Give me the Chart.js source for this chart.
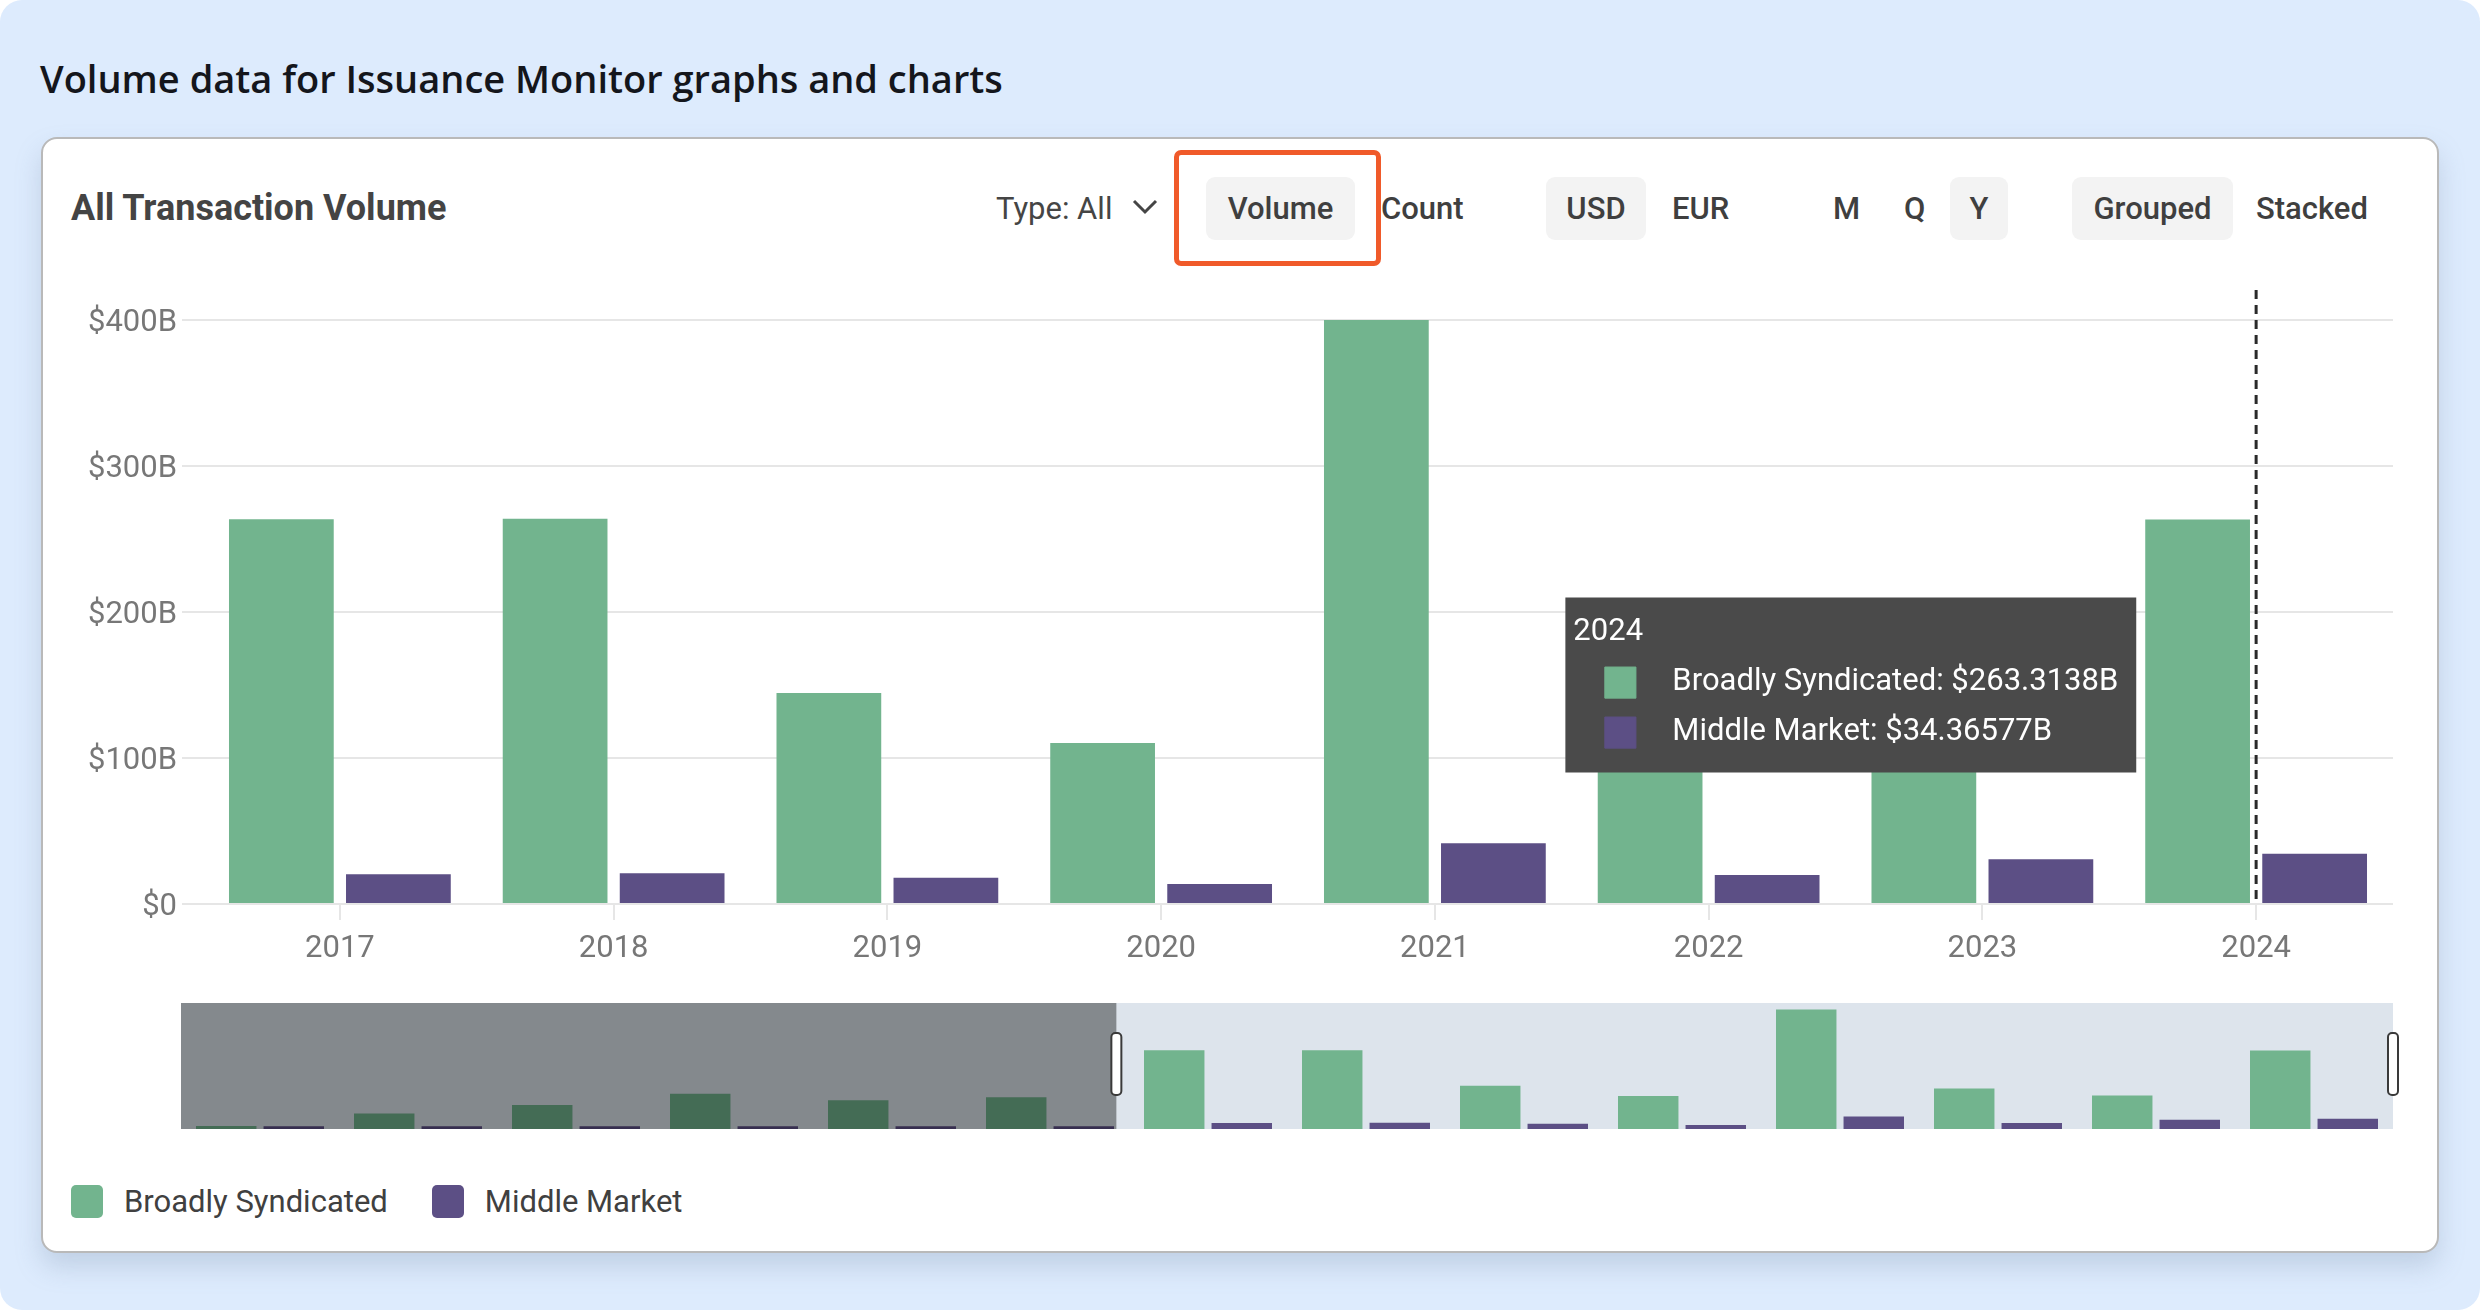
<!DOCTYPE html>
<html>
<head>
<meta charset="utf-8">
<script src="https://cdn.jsdelivr.net/npm/chart.js@4.4.1/dist/chart.umd.min.js"></script>
<style>
  body { margin: 0; background: #ffffff; }
  #frame { position: relative; width: 2480px; height: 1310px; background: #ddebfd; border-radius: 22px; overflow: hidden; font-family: Roboto, "Liberation Sans", sans-serif; }
  .abs { position: absolute; white-space: nowrap; }
  #pageTitle { left: 40px; top: 52px; font-family: "Open Sans", Lato, sans-serif; font-weight: 600; font-size: 38px; color: #14161c; }
  #card { left: 41px; top: 137px; width: 2398px; height: 1116px; box-sizing: border-box; background: #fff; border: 2px solid #b9b9b9; border-radius: 16px; box-shadow: 0 14px 26px rgba(120,140,170,0.28); }
  #cardTitle { left: 71px; top: 177px; line-height: 63px; font-size: 36px; font-weight: 700; color: #444; }
  .ctl { top: 177px; height: 63px; line-height: 63px; font-size: 31px; font-weight: 500; color: #3f3f3f; text-align: center; }
  .on { background: #f3f3f3; border-radius: 9px; }
  #typeSel { left: 996px; font-weight: 400; color: #454545; }
  #hilite { left: 1174px; top: 150px; width: 207px; height: 116px; box-sizing: border-box; border: 5px solid #f05a2a; border-radius: 7px; }
  #legend { left: 71px; top: 1183px; display: flex; align-items: center; font-size: 31px; color: #404040; }
  .lg { display: flex; align-items: center; margin-right: 44px; }
  .sw { width: 32px; height: 33px; border-radius: 5px; margin-right: 21px; }
  canvas { position: absolute; }
</style>
</head>
<body>
<div id="frame">
  <div class="abs" id="pageTitle">Volume data for Issuance Monitor graphs and charts</div>
  <div class="abs" id="card"></div>
  <div class="abs" id="cardTitle">All Transaction Volume</div>

  <div class="abs ctl" id="typeSel">Type: All</div>
  <svg class="abs" style="left:1132px;top:198px" width="26" height="18" viewBox="0 0 26 18"><path d="M2 3 L13 14 L24 3" fill="none" stroke="#454545" stroke-width="3"/></svg>
  <div class="abs" id="hilite"></div>
  <div class="abs ctl on" style="left:1206px;width:149px">Volume</div>
  <div class="abs ctl" style="left:1381px">Count</div>
  <div class="abs ctl on" style="left:1546px;width:100px">USD</div>
  <div class="abs ctl" style="left:1672px">EUR</div>
  <div class="abs ctl" style="left:1833px">M</div>
  <div class="abs ctl" style="left:1904px">Q</div>
  <div class="abs ctl on" style="left:1950px;width:58px">Y</div>
  <div class="abs ctl on" style="left:2072px;width:161px">Grouped</div>
  <div class="abs ctl" style="left:2256px">Stacked</div>

  <canvas id="mainChart" width="2360" height="740" style="left:58px;top:250px"></canvas>
  <canvas id="navChart" width="2240" height="140" style="left:170px;top:995px"></canvas>

  <div class="abs" id="legend"></div>
</div>

<script>
// Datos (miles de millones USD)
const years = ['2011', '2012', '2013', '2014', '2015', '2016', '2017', '2018', '2019', '2020', '2021', '2022', '2023', '2024'];
const broadlySyndicated = [10, 52, 80, 118, 96, 106, 263.6, 263.8, 144.5, 110.2, 400, 136, 112, 263.3138];
const middleMarket = [9, 9, 9, 9, 9, 9, 20.3, 21.0, 17.9, 13.7, 41.6, 19.9, 30.6, 34.36577];
const seriesNames = ['Broadly Syndicated', 'Middle Market'];
const seriesColors = ['#72b48e', '#5c4f85'];
const yTicks = [0, 100, 200, 300, 400];

// Rango visible en el navegador (desde el índice 6 = 2017)
const firstVisible = 6;
const navSelStart = 5.42;
const hoverIndex = 7;

const FONT = 'Roboto, "Liberation Sans", sans-serif';
const gridColor = '#e6e6e6';

function makeDatasets(from) {
    return [broadlySyndicated, middleMarket].map((vals, i) => ({
        label: seriesNames[i],
        data: vals.slice(from),
        backgroundColor: seriesColors[i],
        hoverBackgroundColor: seriesColors[i],
        borderWidth: 0,
        categoryPercentage: 0.855,
        barPercentage: 0.895
    }));
}

// Tooltip a la izquierda de la barra activa
Chart.Tooltip.positioners.leftOfBar = function (items) {
    if (!items.length) return false;
    const bar = items[0].element;
    return {
        x: bar.x - bar.width / 2 - 9,
        y: this.chart.scales.y.getPixelForValue(150)
    };
};

// Línea punteada vertical en el índice activo
const hoverLine = {
    id: 'hoverLine',
    afterDatasetsDraw(chart) {
        const act = chart.tooltip.getActiveElements();
        if (!act.length) return;
        const x = chart.scales.x.getPixelForValue(act[0].index);
        const ctx = chart.ctx;
        ctx.save();
        ctx.strokeStyle = '#2a2a2a';
        ctx.lineWidth = 3;
        ctx.setLineDash([9, 6]);
        ctx.beginPath();
        ctx.moveTo(x, chart.chartArea.top - 30);
        ctx.lineTo(x, chart.chartArea.bottom);
        ctx.stroke();
        ctx.restore();
    }
};

const mainChart = new Chart(document.getElementById('mainChart'), {
    type: 'bar',
    data: {
        labels: years.slice(firstVisible),
        datasets: makeDatasets(firstVisible)
    },
    options: {
        responsive: false,
        devicePixelRatio: 1,
        animation: false,
        events: [],
        layout: { padding: { top: 70, right: 25, left: 0, bottom: 0 } },
        plugins: {
            legend: { display: false },
            tooltip: {
                position: 'leftOfBar',
                mode: 'index',
                xAlign: 'right',
                yAlign: 'center',
                backgroundColor: '#4a4a4a',
                cornerRadius: 0,
                caretSize: 0,
                caretPadding: 0,
                padding: { top: 16, left: 8, right: 18, bottom: 18 },
                titleFont: { family: FONT, size: 31, weight: 'normal' },
                titleColor: '#ffffff',
                titleMarginBottom: 10,
                bodyFont: { family: FONT, size: 31 },
                bodyColor: '#ffffff',
                bodySpacing: 6,
                boxWidth: 94,
                boxHeight: 44,
                boxPadding: 3,
                usePointStyle: true,
                multiKeyBackground: 'rgba(0,0,0,0)',
                callbacks: {
                    label: (c) => c.dataset.label + ': $' + c.raw + 'B',
                    labelColor: (c) => ({ borderColor: seriesColors[c.datasetIndex], backgroundColor: seriesColors[c.datasetIndex] }),
                    labelPointStyle: () => ({ pointStyle: 'rect', rotation: 0 })
                }
            }
        },
        scales: {
            x: {
                border: { display: false },
                grid: { drawOnChartArea: false, offset: false, tickLength: 16, color: gridColor, lineWidth: 2 },
                ticks: { color: '#777', padding: 11, font: { family: FONT, size: 31 } },
                afterFit: (s) => { s.height = 86; }
            },
            y: {
                min: 0,
                max: 400,
                border: { display: false },
                grid: { color: gridColor, lineWidth: 2, tickLength: 21 },
                afterBuildTicks: (s) => { s.ticks = yTicks.map(v => ({ value: v })); },
                ticks: {
                    color: '#777',
                    padding: 5,
                    labelOffset: 3,
                    font: { family: FONT, size: 31 },
                    callback: (v) => v === 0 ? '$0' : '$' + v + 'B'
                },
                afterFit: (s) => { s.width = 145; }
            }
        }
    },
    plugins: [hoverLine]
});

const active = [0, 1].map(d => ({ datasetIndex: d, index: hoverIndex }));
mainChart.setActiveElements(active);
mainChart.tooltip.setActiveElements(active, { x: 0, y: 0 });
mainChart.update();

// Navegador inferior
const navShade = {
    id: 'navShade',
    beforeDatasetsDraw(chart) {
        const { ctx, chartArea: a } = chart;
        ctx.save();
        ctx.fillStyle = '#dde4ec';
        ctx.fillRect(a.left, a.top, a.right - a.left, a.bottom - a.top);
        ctx.restore();
    },
    afterDatasetsDraw(chart) {
        const { ctx, chartArea: a } = chart;
        const xs = chart.scales.x;
        const p0 = xs.getPixelForValue(Math.floor(navSelStart));
        const p1 = xs.getPixelForValue(Math.floor(navSelStart) + 1);
        const cut = p0 + (p1 - p0) * (navSelStart - Math.floor(navSelStart));
        ctx.save();
        ctx.fillStyle = 'rgba(0,0,0,0.4)';
        ctx.fillRect(a.left, a.top, cut - a.left, a.bottom - a.top);
        const midY = a.top + (a.bottom - a.top) / 2 - 2;
        [cut, a.right].forEach(x => {
            ctx.beginPath();
            ctx.roundRect(x - 5, midY - 31, 10, 62, 4);
            ctx.fillStyle = '#ffffff';
            ctx.fill();
            ctx.lineWidth = 2;
            ctx.strokeStyle = '#3a3a3a';
            ctx.stroke();
        });
        ctx.restore();
    }
};

new Chart(document.getElementById('navChart'), {
    type: 'bar',
    data: {
        labels: years,
        datasets: makeDatasets(0)
    },
    options: {
        responsive: false,
        devicePixelRatio: 1,
        animation: false,
        events: [],
        layout: { padding: { top: 8, bottom: 6, left: 11, right: 17 } },
        plugins: { legend: { display: false }, tooltip: { enabled: false } },
        scales: {
            x: { display: false },
            y: { display: false, min: 0, max: 422 }
        }
    },
    plugins: [navShade]
});

// Leyenda
document.getElementById('legend').innerHTML = seriesNames.map((n, i) =>
    `<div class="lg"><div class="sw" style="background:${seriesColors[i]}"></div>${n}</div>`
).join('');
</script>
</body>
</html>
